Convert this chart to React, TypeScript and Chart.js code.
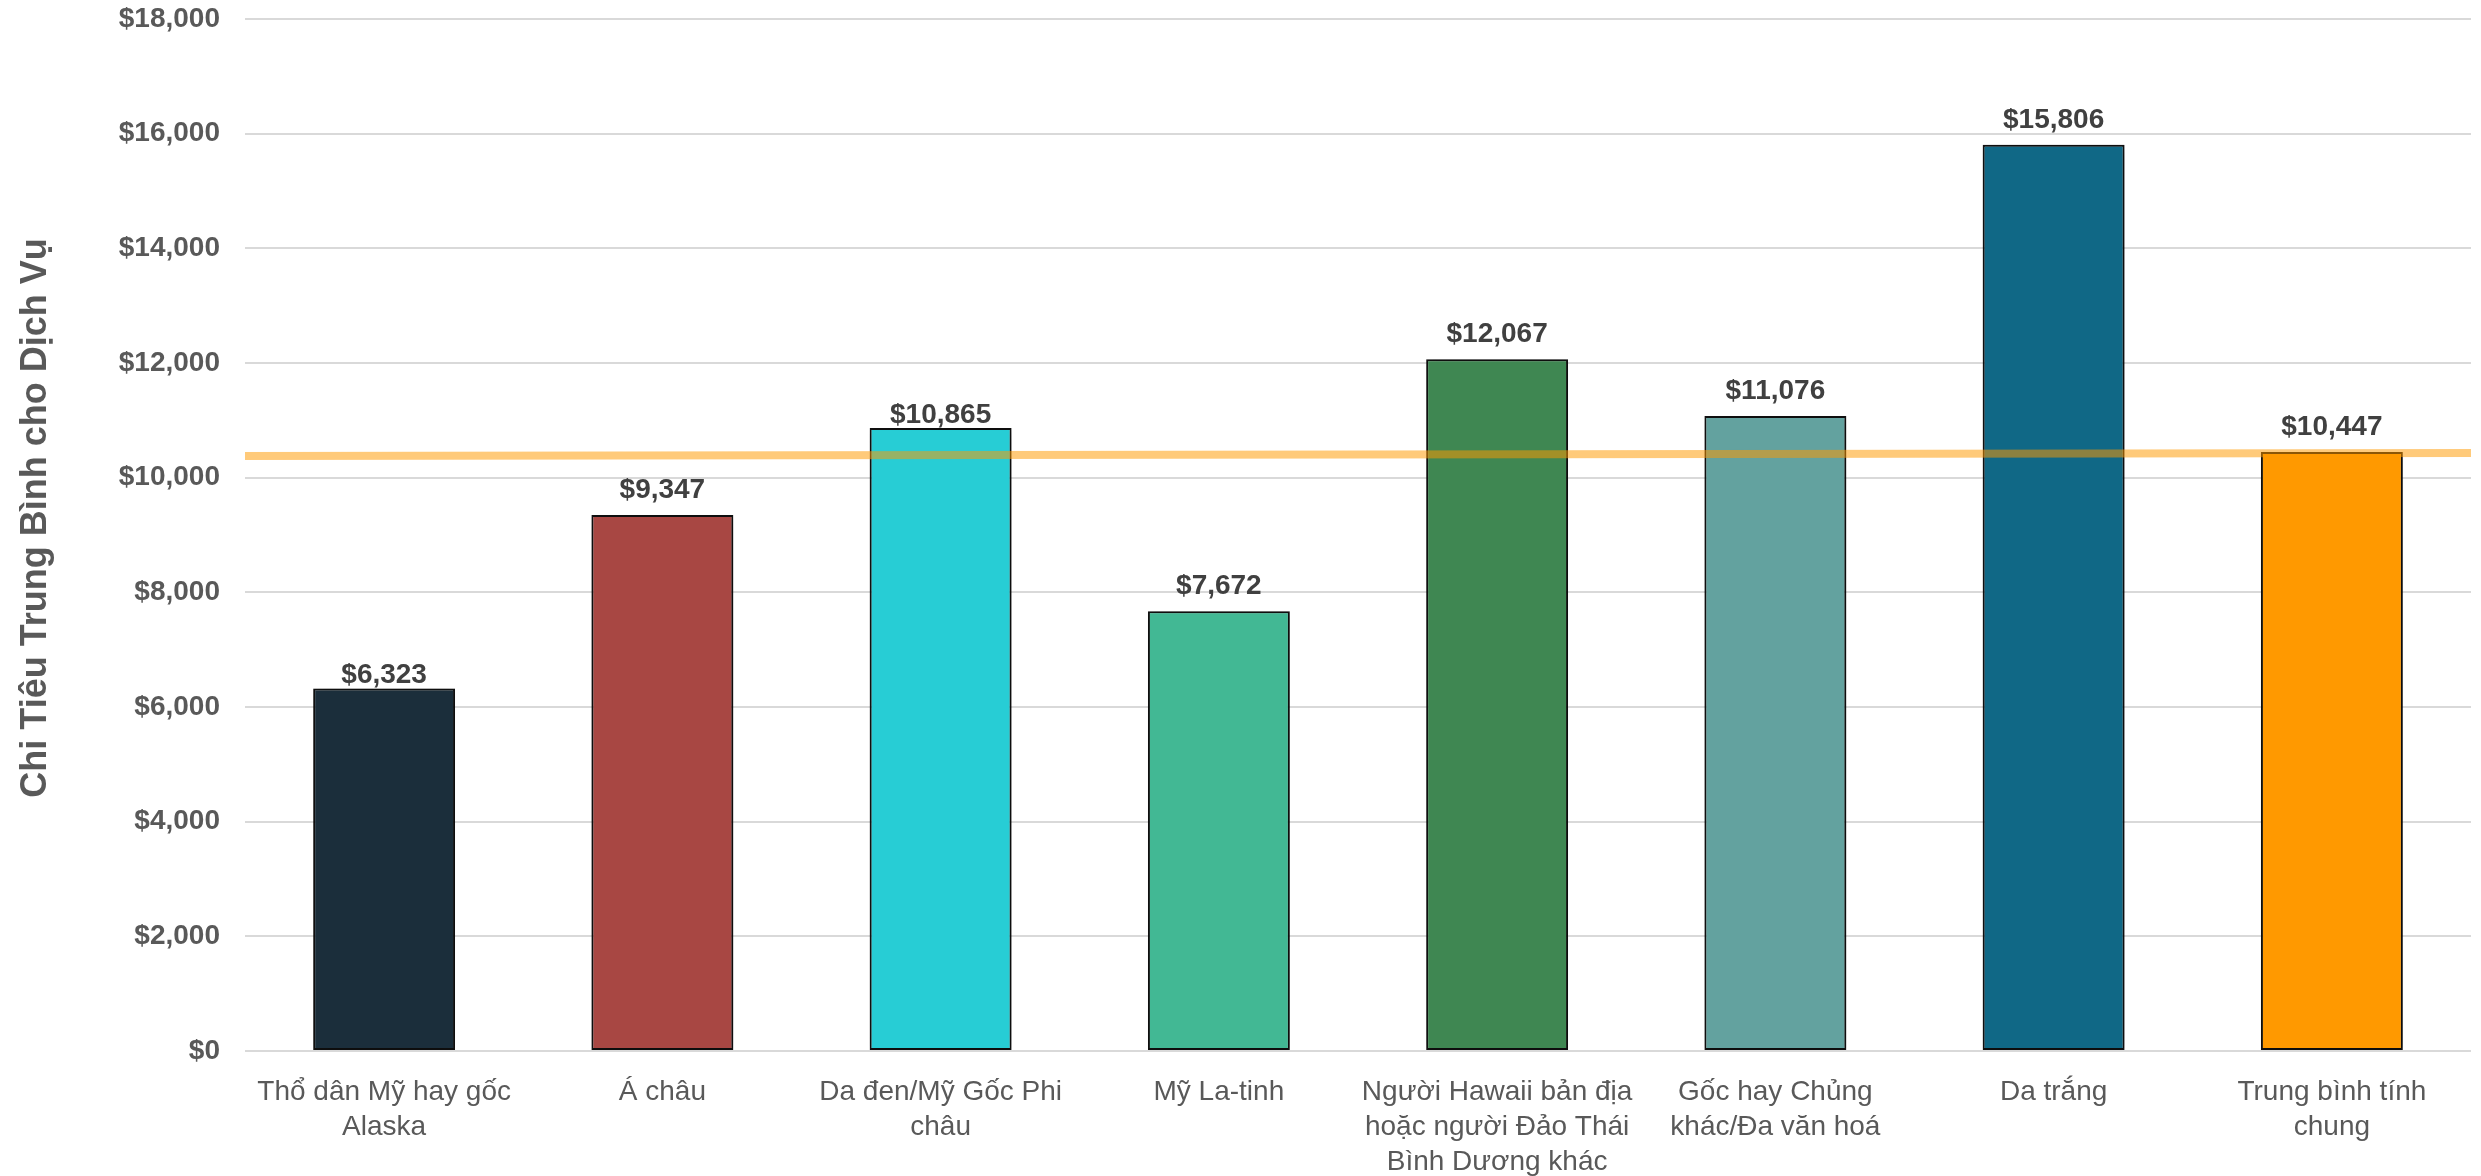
import React, { useEffect, useRef } from "react";
import { Chart, registerables } from "chart.js";

Chart.register(...registerables);

const categories: (string | string[])[] = [
  ["Thổ dân Mỹ hay gốc", "Alaska"],
  "Á châu",
  ["Da đen/Mỹ Gốc Phi", "châu"],
  "Mỹ La-tinh",
  ["Người Hawaii bản địa", "hoặc người Đảo Thái", "Bình Dương khác"],
  ["Gốc hay Chủng", "khác/Đa văn hoá"],
  "Da trắng",
  ["Trung bình tính", "chung"],
];

const spending: number[] = [6323, 9347, 10865, 7672, 12067, 11076, 15806, 10447];

const barColors: string[] = [
  "#1B2E3B",
  "#A84743",
  "#27CDD5",
  "#42B894",
  "#3F8752",
  "#63A29F",
  "#106886",
  "#FF9900",
];

const trendX: number[] = [0, 1];
const trendY: number[] = [10380, 10432];

const yTicks: number[] = [0, 2000, 4000, 6000, 8000, 10000, 12000, 14000, 16000, 18000];

const yTitle = "Chi Tiêu Trung Bình cho Dịch Vụ";

const fmt = (v: number) => "$" + v.toLocaleString("en-US");

// gap (px) between each value label and its bar top
const LABEL_GAPS = [5, 17, 5, 17, 17, 17, 17, 17];

export default function App() {
  const ref = useRef<HTMLCanvasElement | null>(null);

  useEffect(() => {
    document.body.style.margin = "0";
    const canvas = ref.current;
    if (!canvas) return;

    const shadowPlugin = {
      id: "barShadow",
      beforeDatasetDraw(chart: any, args: any) {
        if (args.index !== 0) return;
        const ctx = chart.ctx;
        ctx.save();
        ctx.shadowColor = "rgba(0,0,0,0.35)";
        ctx.shadowBlur = 12;
        ctx.shadowOffsetX = 2;
        ctx.shadowOffsetY = 1;
      },
      afterDatasetDraw(chart: any, args: any) {
        if (args.index !== 0) return;
        chart.ctx.restore();
      },
    };

    const labelPlugin = {
      id: "valueLabels",
      afterDatasetsDraw(chart: any) {
        const ctx = chart.ctx;
        const meta = chart.getDatasetMeta(0);
        ctx.save();
        ctx.font = "bold 28px 'Liberation Sans', Arial, sans-serif";
        ctx.fillStyle = "#404040";
        ctx.textAlign = "center";
        ctx.textBaseline = "alphabetic";
        meta.data.forEach((bar: any, i: number) => {
          ctx.fillText(fmt(spending[i]), bar.x, bar.y - LABEL_GAPS[i]);
        });
        ctx.restore();
      },
    };

    const titlePlugin = {
      id: "yTitle",
      afterDraw(chart: any) {
        const ctx = chart.ctx;
        const area = chart.chartArea;
        ctx.save();
        ctx.font = "bold 36px 'Liberation Sans', Arial, sans-serif";
        ctx.fillStyle = "#595959";
        ctx.textAlign = "center";
        ctx.textBaseline = "middle";
        ctx.translate(36, (area.top + area.bottom) / 2 - 17);
        ctx.rotate(-Math.PI / 2);
        ctx.fillText(yTitle, 0, 0);
        ctx.restore();
      },
    };

    const chart = new Chart(canvas, {
      type: "bar",
      data: {
        labels: categories,
        datasets: [
          {
            type: "bar",
            data: spending,
            backgroundColor: barColors,
            borderColor: "#111111",
            borderWidth: 2,
            borderSkipped: false,
            categoryPercentage: 1,
            barPercentage: 0.51,
            grouped: false,
            order: 1,
          } as any,
          {
            type: "line",
            data: trendX.map((x, i) => ({ x, y: trendY[i] })),
            xAxisID: "x2",
            borderColor: "rgba(255,153,0,0.52)",
            borderWidth: 8,
            borderCapStyle: "butt",
            pointRadius: 0,
            fill: false,
            order: 0,
          } as any,
        ],
      },
      options: {
        responsive: false,
        animation: false,
        layout: { padding: { left: 0, right: 10, top: 19, bottom: 0 } },
        plugins: {
          legend: { display: false },
          tooltip: { enabled: false },
          title: { display: false },
        },
        scales: {
          x: {
            type: "category",
            grid: { display: false, drawTicks: false },
            border: { display: false },
            ticks: {
              autoSkip: false,
              maxRotation: 0,
              minRotation: 0,
              padding: 24,
              color: "#595959",
              font: { family: "'Liberation Sans', Arial, sans-serif", size: 28, lineHeight: 1.25 },
            },
            afterFit(scale: any) {
              scale.height = 125;
            },
          },
          x2: {
            type: "linear",
            display: false,
            offset: false,
            min: 0,
            max: 1,
          },
          y: {
            min: 0,
            max: 18000,
            afterBuildTicks(scale: any) {
              scale.ticks = yTicks.map((v) => ({ value: v }));
            },
            grid: {
              color: "#D9D9D9",
              lineWidth: 2,
              drawTicks: true,
              tickLength: 25,
              tickColor: "rgba(0,0,0,0)",
            },
            border: { display: false },
            ticks: {
              padding: 0,
              color: "#595959",
              font: { family: "'Liberation Sans', Arial, sans-serif", size: 28, weight: "bold" },
              callback: (v: any) => fmt(Number(v)),
            },
            afterFit(scale: any) {
              scale.width = 245;
            },
          },
        },
      } as any,
      plugins: [shadowPlugin, labelPlugin, titlePlugin],
    });

    return () => chart.destroy();
  }, []);

  return (
    <div style={{ position: "absolute", left: 0, top: 0, width: 2481, height: 1176, background: "#fff" }}>
      <canvas ref={ref} width={2481} height={1176} />
    </div>
  );
}
